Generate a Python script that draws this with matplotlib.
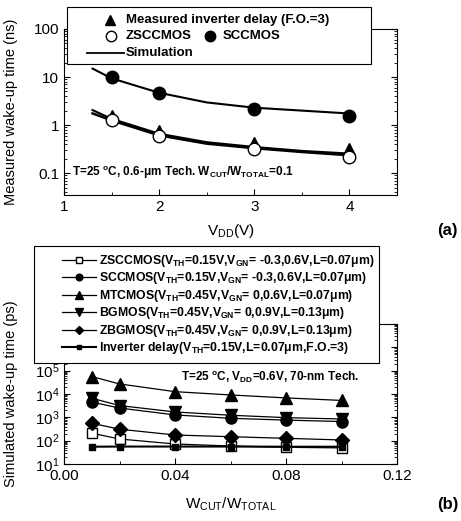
import matplotlib
matplotlib.use("Agg")
import matplotlib.pyplot as plt
from matplotlib.lines import Line2D
from matplotlib.patches import Rectangle
from matplotlib.ticker import LogLocator, NullFormatter, MultipleLocator

plt.rcParams['font.family'] = ['Liberation Sans', 'DejaVu Sans']
plt.rcParams['mathtext.fontset'] = 'custom'
plt.rcParams['mathtext.rm'] = 'Liberation Sans'
plt.rcParams['mathtext.bf'] = 'Liberation Sans:bold'
plt.rcParams['mathtext.it'] = 'Liberation Sans:italic'

# ---------------- data: panel (a) ----------------
vdd = [1.5, 2.0, 3.0, 4.0]
inv_meas = [1.55, 0.76, 0.42, 0.31]
zscc_meas = [1.26, 0.59, 0.31, 0.22]
scc_meas = [9.8, 4.6, 2.15, 1.58]

vdd_sim = [1.3, 1.5, 2.0, 2.5, 3.0, 3.5, 4.0]
scc_sim = [15.0, 9.4, 4.7, 2.96, 2.3, 2.0, 1.74]
inv_sim = [2.05, 1.35, 0.66, 0.44, 0.35, 0.29, 0.255]
zscc_sim = [1.75, 1.25, 0.61, 0.41, 0.33, 0.275, 0.235]

# ---------------- data: panel (b) ----------------
ratio = [0.01, 0.02, 0.04, 0.06, 0.08, 0.10]
zsccmos_b = [210, 118, 72, 59, 52, 49]
sccmos_b = [4500, 2500, 1270, 910, 760, 660]
mtcmos_b = [56000, 27000, 12600, 9100, 6800, 5300]
bgmos_b = [6600, 3200, 1700, 1230, 970, 850]
zbgmos_b = [560, 310, 175, 148, 126, 107]
inv_b = [55, 56, 56, 56, 55, 55]

labels_b = [
    r'ZSCCMOS(V$_{\mathbf{TH}}$=0.15V,V$_{\mathbf{GN}}$= -0.3,0.6V,L=0.07μm)',
    r'SCCMOS(V$_{\mathbf{TH}}$=0.15V,V$_{\mathbf{GN}}$= -0.3,0.6V,L=0.07μm)',
    r'MTCMOS(V$_{\mathbf{TH}}$=0.45V,V$_{\mathbf{GN}}$= 0,0.6V,L=0.07μm)',
    r'BGMOS(V$_{\mathbf{TH}}$=0.45V,V$_{\mathbf{GN}}$= 0,0.9V,L=0.13μm)',
    r'ZBGMOS(V$_{\mathbf{TH}}$=0.45V,V$_{\mathbf{GN}}$= 0,0.9V,L=0.13μm)',
    r'Inverter delay(V$_{\mathbf{TH}}$=0.15V,L=0.07μm,F.O.=3)',
]

W, H = 461, 521
fig = plt.figure(figsize=(W / 100, H / 100), dpi=100)

def fx(px):
    return px / W

def fy(py):
    return 1 - py / H

# ---------------- panel (a) ----------------
axa = fig.add_axes([fx(64), fy(195), fx(397) - fx(64), fy(29) - fy(195)])
axa.set_yscale('log')
axa.plot(vdd_sim, scc_sim, color='black', lw=1.5, zorder=2)
axa.plot(vdd_sim, inv_sim, color='black', lw=1.5, zorder=2)
axa.plot(vdd_sim, zscc_sim, color='black', lw=1.8, zorder=2)
axa.plot(vdd, inv_meas, ls='none', marker='^', ms=8, mfc='black', mec='black', zorder=3)
axa.plot(vdd, zscc_meas, ls='none', marker='o', ms=9, mfc='white', mec='black', mew=1.0, zorder=4)
axa.plot(vdd, scc_meas, ls='none', marker='o', ms=9, mfc='black', mec='black', zorder=3)
axa.set_xlim(1, 4.5)
axa.set_ylim(0.035, 100)
axa.set_xticks([1, 2, 3, 4])
axa.xaxis.set_minor_locator(MultipleLocator(0.5))
axa.set_yticks([0.1, 1, 10, 100])
axa.set_yticklabels(['0.1', '1', '10', '100'])
axa.yaxis.set_minor_locator(LogLocator(base=10, subs=range(2, 10), numticks=20))
axa.yaxis.set_minor_formatter(NullFormatter())
axa.tick_params(which='both', direction='in', top=True, right=True, labelsize=11)
axa.tick_params(which='major', length=4)
axa.tick_params(which='minor', length=2)
axa.set_xlabel(r'V$_{\rm DD}$(V)', fontsize=11, labelpad=6)
axa.set_ylabel('Measured wake-up time (ns)', fontsize=10.5)
axa.yaxis.set_label_coords(-(64 - 18) / 333, 0.5)
axa.text(0.024, 0.133, r'T=25 $^{\mathbf{o}}$C, 0.6-μm Tech. W$_{\mathbf{CUT}}$/W$_{\mathbf{TOTAL}}$=0.1',
         transform=axa.transAxes, fontsize=8.5, fontweight='bold', va='center', ha='left')

# manual legend box for panel (a)
fig.add_artist(Rectangle((fx(67), fy(64)), fx(371) - fx(67), fy(7) - fy(64),
                         transform=fig.transFigure, facecolor='white',
                         edgecolor='black', lw=0.8, zorder=5))
fig.add_artist(Line2D([fx(110)], [fy(20)], marker='^', ms=7.5, color='black',
                      ls='none', transform=fig.transFigure, zorder=6))
fig.text(fx(126), fy(20), 'Measured inverter delay (F.O.=3)', fontsize=9.5,
         fontweight='bold', va='center', ha='left', zorder=6)
fig.add_artist(Line2D([fx(111)], [fy(36)], marker='o', ms=7.5, mfc='white', mec='black',
                      ls='none', transform=fig.transFigure, zorder=6))
fig.text(fx(126), fy(36), 'ZSCCMOS', fontsize=9.5, fontweight='bold',
         va='center', ha='left', zorder=6)
fig.add_artist(Line2D([fx(210)], [fy(36)], marker='o', ms=7.5, mfc='black', mec='black',
                      ls='none', transform=fig.transFigure, zorder=6))
fig.text(fx(223), fy(36), 'SCCMOS', fontsize=9.5, fontweight='bold',
         va='center', ha='left', zorder=6)
fig.add_artist(Line2D([fx(87), fx(124)], [fy(53), fy(53)], color='black', lw=1.3,
                      transform=fig.transFigure, zorder=6))
fig.text(fx(126), fy(53), 'Simulation', fontsize=9.5, fontweight='bold',
         va='center', ha='left', zorder=6)

fig.text(fx(458), fy(230), '(a)', fontsize=12, fontweight='bold', ha='right', va='center')

# ---------------- panel (b) ----------------
axb = fig.add_axes([fx(64), fy(464), fx(397) - fx(64), fy(324) - fy(464)])
axb.set_yscale('log')
h1, = axb.plot(ratio, zsccmos_b, color='black', lw=0.9, marker='s', ms=7, mfc='white', mec='black', zorder=3)
h2, = axb.plot(ratio, sccmos_b, color='black', lw=0.9, marker='o', ms=8, mfc='black', mec='black', zorder=4)
h3, = axb.plot(ratio, mtcmos_b, color='black', lw=0.9, marker='^', ms=9, mfc='black', mec='black', zorder=3)
h4, = axb.plot(ratio, bgmos_b, color='black', lw=0.9, marker='v', ms=9, mfc='black', mec='black', zorder=3)
h5, = axb.plot(ratio, zbgmos_b, color='black', lw=0.9, marker='D', ms=7, mfc='black', mec='black', zorder=3)
h6, = axb.plot(ratio, inv_b, color='black', lw=1.5, marker='s', ms=4.5, mfc='black', mec='black', zorder=5)
axb.set_xlim(0, 0.12)
axb.set_ylim(10, 1e7)
axb.set_xticks([0.0, 0.04, 0.08, 0.12])
axb.set_xticklabels(['0.00', '0.04', '0.08', '0.12'])
axb.xaxis.set_minor_locator(MultipleLocator(0.02))
axb.yaxis.set_major_locator(LogLocator(base=10, numticks=20))
axb.yaxis.set_minor_locator(LogLocator(base=10, subs=range(2, 10), numticks=20))
axb.yaxis.set_minor_formatter(NullFormatter())
axb.tick_params(which='both', direction='in', top=True, right=True, labelsize=11)
axb.tick_params(which='major', length=4)
axb.tick_params(which='minor', length=2)
axb.set_xlabel(r'W$_{\rm CUT}$/W$_{\rm TOTAL}$', fontsize=11, labelpad=9)
axb.set_ylabel('Simulated wake-up time (ps)', fontsize=10.5)
axb.yaxis.set_label_coords(-(64 - 18) / 333, 0.5)
axb.text(0.351, 0.62, r'T=25 $^{\mathbf{o}}$C, V$_{\mathbf{DD}}$=0.6V, 70-nm Tech.',
         transform=axb.transAxes, fontsize=8.5, fontweight='bold', va='center', ha='left')

# legend frame for panel (b)
fig.add_artist(Rectangle((fx(34), fy(363)), fx(379) - fx(34), fy(246) - fy(363),
                         transform=fig.transFigure, facecolor='white',
                         edgecolor='black', lw=0.8, zorder=5))
leg = fig.legend([h1, h2, h3, h4, h5, h6], labels_b, loc='upper left',
                 bbox_to_anchor=(fx(62), fy(253)), borderaxespad=0, borderpad=0,
                 prop={'weight': 'bold', 'size': 8.8}, frameon=False,
                 handlelength=2.8, handletextpad=0.2,
                 labelspacing=0.12, markerscale=0.6)
leg.set_zorder(6)

fig.text(fx(458), fy(505), '(b)', fontsize=12, fontweight='bold', ha='right', va='center')

fig.savefig('out.png', dpi=100)
